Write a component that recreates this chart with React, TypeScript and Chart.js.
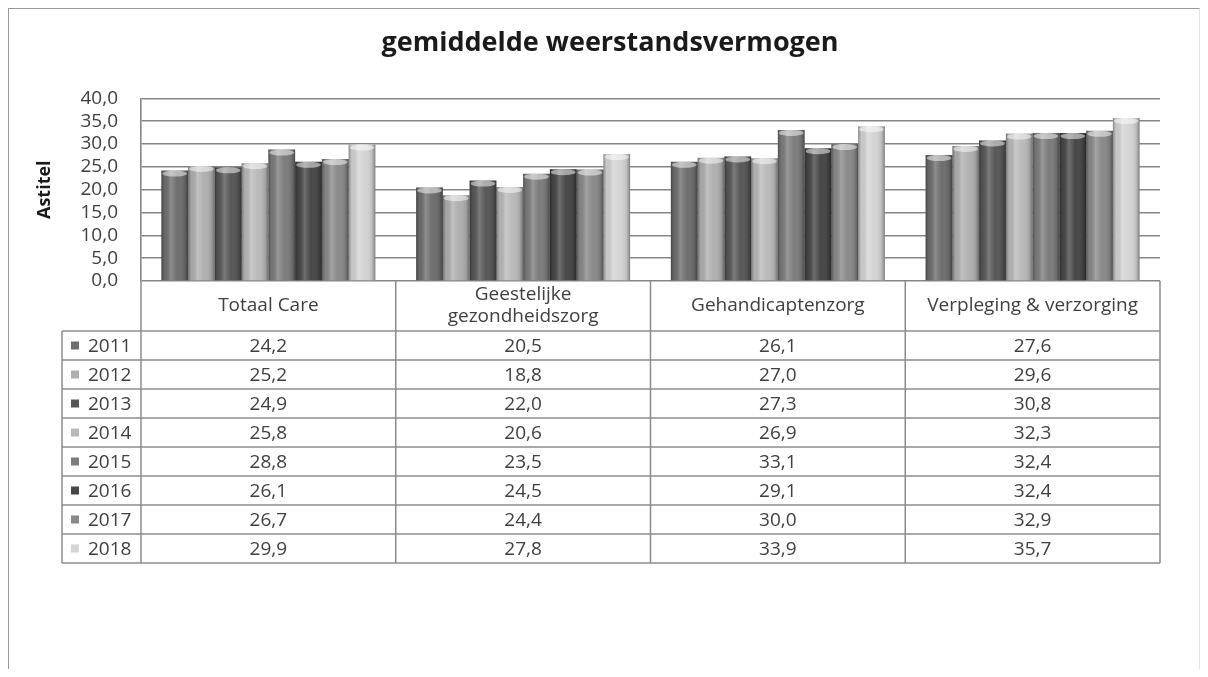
import React, { useEffect, useRef } from "react";
import { Chart, registerables } from "chart.js";

Chart.register(...registerables);

const chartTitle = "gemiddelde weerstandsvermogen";
const yAxisTitle = "Astitel";
const categories: (string | string[])[] = [
  "Totaal Care",
  ["Geestelijke", "gezondheidszorg"],
  "Gehandicaptenzorg",
  "Verpleging & verzorging",
];
const years = ["2011", "2012", "2013", "2014", "2015", "2016", "2017", "2018"];

const v2011 = [24.2, 20.5, 26.1, 27.6];
const v2012 = [25.2, 18.8, 27.0, 29.6];
const v2013 = [24.9, 22.0, 27.3, 30.8];
const v2014 = [25.8, 20.6, 26.9, 32.3];
const v2015 = [28.8, 23.5, 33.1, 32.4];
const v2016 = [26.1, 24.5, 29.1, 32.4];
const v2017 = [26.7, 24.4, 30.0, 32.9];
const v2018 = [29.9, 27.8, 33.9, 35.7];
const seriesValues = [v2011, v2012, v2013, v2014, v2015, v2016, v2017, v2018];

const seriesColors = [
  "#6e6e6e",
  "#b0b0b0",
  "#575757",
  "#bababa",
  "#7c7c7c",
  "#474747",
  "#8a8a8a",
  "#d4d4d4",
];

const FONT = "'Open Sans', 'Liberation Sans', sans-serif";
const fmt = (v: number) => v.toFixed(1).replace(".", ",");

const cylinderPlugin = {
  id: "cylinder",
  afterDatasetsDraw(chart: any) {
    const ctx = chart.ctx as CanvasRenderingContext2D;
    const area = chart.chartArea;
    ctx.save();
    ctx.beginPath();
    ctx.rect(area.left, area.top - 10, area.right - area.left, area.bottom - area.top + 10);
    ctx.clip();
    chart.data.datasets.forEach((_ds: any, di: number) => {
      const meta = chart.getDatasetMeta(di);
      meta.data.forEach((el: any) => {
        const { x, y, base, width } = el.getProps(["x", "y", "base", "width"], true);
        const left = x - width / 2;
        const g = ctx.createLinearGradient(left, 0, left + width, 0);
        g.addColorStop(0, "rgba(0,0,0,0.35)");
        g.addColorStop(0.12, "rgba(0,0,0,0.05)");
        g.addColorStop(0.35, "rgba(255,255,255,0.22)");
        g.addColorStop(0.6, "rgba(255,255,255,0.0)");
        g.addColorStop(0.88, "rgba(0,0,0,0.12)");
        g.addColorStop(1, "rgba(0,0,0,0.4)");
        ctx.fillStyle = g;
        ctx.fillRect(left, y, width, base - y);
        ctx.beginPath();
        ctx.ellipse(x, y + 3, width / 2 - 1, 3, 0, 0, Math.PI * 2);
        ctx.fillStyle = "rgba(255,255,255,0.5)";
        ctx.fill();
      });
    });
    ctx.restore();
  },
};

const tablePlugin = {
  id: "dataTable",
  afterDraw(chart: any) {
    const ctx = chart.ctx as CanvasRenderingContext2D;
    const area = chart.chartArea;
    const xs = chart.scales.x;
    const n = categories.length;
    const colW = (area.right - area.left) / n;
    const headerTop = area.bottom;
    const headerBottom = headerTop + 50;
    const rowH = 29;
    const tableBottom = headerBottom + rowH * years.length;
    const legendLeft = 53;
    ctx.save();
    ctx.strokeStyle = "#8c8c8c";
    ctx.lineWidth = 1.5;
    for (let i = 0; i <= n; i++) {
      const cx = i < n ? xs.getPixelForValue(i) - colW / 2 : xs.getPixelForValue(n - 1) + colW / 2;
      ctx.beginPath();
      ctx.moveTo(cx, headerTop);
      ctx.lineTo(cx, tableBottom);
      ctx.stroke();
    }
    ctx.beginPath();
    ctx.moveTo(legendLeft, headerBottom);
    ctx.lineTo(legendLeft, tableBottom);
    ctx.stroke();
    for (let r = 0; r <= years.length; r++) {
      const yy = headerBottom + r * rowH;
      ctx.beginPath();
      ctx.moveTo(legendLeft, yy);
      ctx.lineTo(area.right, yy);
      ctx.stroke();
    }
    ctx.fillStyle = "#404040";
    ctx.textAlign = "center";
    ctx.textBaseline = "middle";
    ctx.font = `19px ${FONT}`;
    categories.forEach((c, i) => {
      const cx = xs.getPixelForValue(i);
      const lines = Array.isArray(c) ? c : [c];
      const mid = (headerTop + headerBottom) / 2;
      lines.forEach((ln, k) => {
        const yy = mid + (k - (lines.length - 1) / 2) * 22;
        ctx.fillText(ln, cx, yy);
      });
    });
    years.forEach((yr, r) => {
      const cy = headerBottom + r * rowH + rowH / 2;
      ctx.fillStyle = seriesColors[r];
      ctx.fillRect(legendLeft + 9, cy - 4, 8, 8);
      ctx.fillStyle = "#404040";
      ctx.textAlign = "left";
      ctx.font = `19px ${FONT}`;
      ctx.fillText(yr, legendLeft + 26, cy + 1);
      ctx.textAlign = "center";
      seriesValues[r].forEach((v, i) => {
        ctx.fillText(fmt(v), xs.getPixelForValue(i), cy + 1);
      });
    });
    ctx.restore();
  },
};

export default function App() {
  const ref = useRef<HTMLCanvasElement | null>(null);
  useEffect(() => {
    if (!ref.current) return;
    const chart = new Chart(ref.current, {
      type: "bar",
      data: {
        labels: categories.map((c) => (Array.isArray(c) ? c.join(" ") : c)),
        datasets: years.map((yr, i) => ({
          label: yr,
          data: seriesValues[i],
          backgroundColor: seriesColors[i],
          borderWidth: 0,
          categoryPercentage: 0.84,
          barPercentage: 1.0,
        })),
      },
      options: {
        animation: false,
        responsive: true,
        maintainAspectRatio: false,
        layout: { padding: { left: 12, right: 0, top: 0, bottom: 388 } },
        plugins: {
          legend: { display: false },
          tooltip: { enabled: false },
          title: {
            display: true,
            text: chartTitle,
            color: "#1a1a1a",
            font: { family: FONT, size: 27, weight: "bold", lineHeight: 1.2 },
            padding: { top: 18, bottom: 39 },
          },
        },
        scales: {
          x: { display: false },
          y: {
            min: 0,
            max: 40,
            ticks: {
              stepSize: 5,
              autoSkip: false,
              color: "#404040",
              padding: 23,
              font: { family: FONT, size: 19 },
              callback: (v: any) => fmt(Number(v)),
            },
            grid: { color: "#858585", lineWidth: 1.6, drawTicks: false },
            border: { display: true, color: "#858585", width: 1.6 },
            title: {
              display: true,
              text: yAxisTitle,
              color: "#1a1a1a",
              font: { family: FONT, size: 18, weight: "bold", lineHeight: 1.2 },
              padding: { top: 13, bottom: 0 },
            },
            afterFit: (scale: any) => {
              scale.width = 120;
            },
          },
          y2: {
            position: "right",
            display: true,
            min: 0,
            max: 40,
            ticks: { display: false },
            grid: { display: false, drawTicks: false },
            border: { display: false },
            afterFit: (scale: any) => {
              scale.width = 39;
            },
          },
        },
      },
      plugins: [cylinderPlugin, tablePlugin],
    });
    return () => chart.destroy();
  }, []);
  return (
    <div
      style={{
        width: 1190,
        height: 660,
        borderTop: "1px solid #9a9a9a",
        borderLeft: "1px solid #9a9a9a",
        borderRight: "1px solid #e4e4e4",
        background: "#fff",
        position: "relative",
      }}
    >
      <canvas ref={ref} />
    </div>
  );
}
